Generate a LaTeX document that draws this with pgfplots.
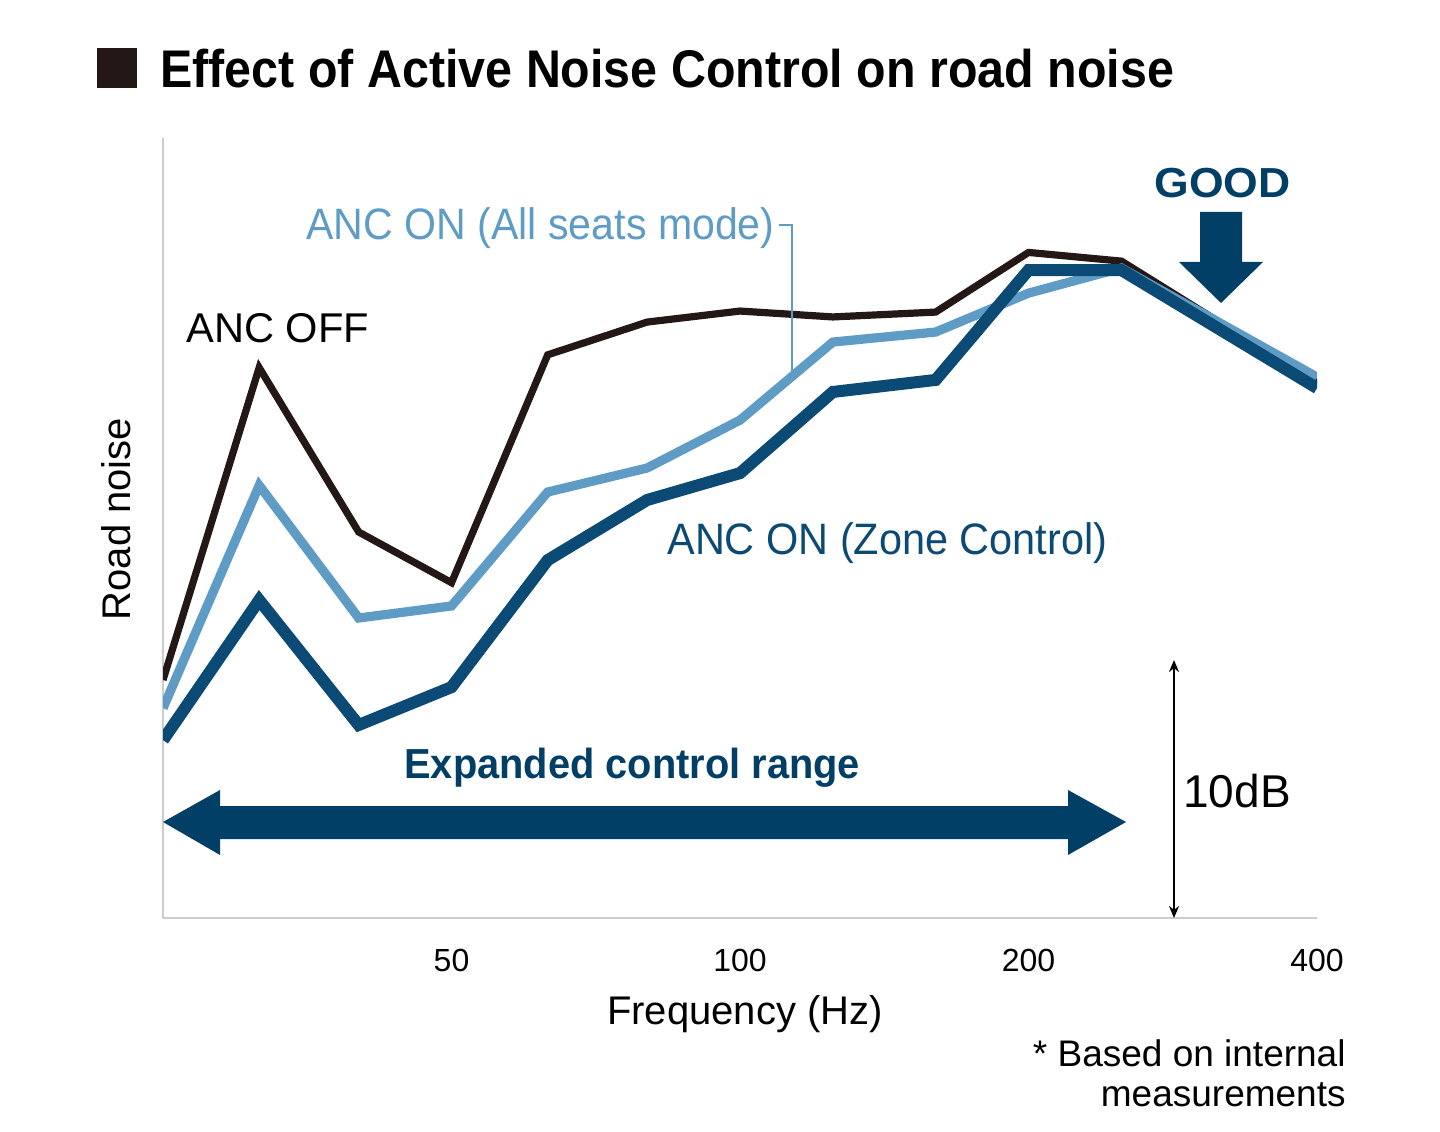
\documentclass[border=0pt]{standalone}
\usepackage{fontspec}
\setmainfont{Liberation Sans}
\usepackage{pgfplots}
\pgfplotsset{compat=1.18}
\usetikzlibrary{arrows.meta}

\definecolor{ancoff}{HTML}{231815}
\definecolor{allseats}{HTML}{5E9CC6}
\definecolor{zone}{HTML}{0B4A74}
\definecolor{arrowblue}{HTML}{023F66}
\definecolor{axisgray}{HTML}{CCCCCC}

\begin{document}
\begin{tikzpicture}
% page frame, in pixel-like units (1 unit = 0.5bp, y downwards)
\begin{scope}[x=0.5bp,y=-0.5bp]
  \path[use as bounding box] (0,0) rectangle (1440,1132);
\end{scope}

\begin{axis}[
  at={(81.5bp,-459bp)}, anchor=south west,
  width=577bp, height=390bp, scale only axis,
  xmode=log, log basis x=2,
  xmin=25, xmax=400, ymin=0, ymax=30.47,
  axis x line*=bottom, axis y line*=left,
  axis line style={axisgray, line width=1.2bp, -},
  xtick={50,100,200,400}, xticklabels={50,100,200,400},
  ytick=\empty, major tick length=0pt,
  /pgf/number format/assume math mode=true,
  xticklabel style={font=\fontsize{16bp}{18bp}\selectfont, text=black, yshift=-12bp},
  line join=miter,
]
% ANC OFF
\addplot[ancoff, line width=3.6bp] coordinates {
  (25,9.3) (31.5,21.5) (40,15.08) (50,13.1) (63,22.0) (80,23.28)
  (100,23.71) (125,23.48) (160,23.67) (200,26.0) (250,25.66) (400,20.9)
};
% ANC ON (All seats mode)
\addplot[allseats, line width=4.6bp] coordinates {
  (25,8.2) (31.5,16.9) (40,11.72) (50,12.19) (63,16.64) (80,17.58)
  (100,19.45) (125,22.5) (160,22.89) (200,24.41) (250,25.39) (400,21.13)
};
% ANC ON (Zone Control)
\addplot[zone, line width=6bp] coordinates {
  (25,6.95) (31.5,12.42) (40,7.54) (50,9.02) (63,13.98) (80,16.33)
  (100,17.38) (125,20.55) (160,21.02) (200,25.31) (250,25.31) (400,20.7)
};
\end{axis}

\begin{scope}[x=0.5bp,y=-0.5bp]
  % title
  \fill[ancoff] (97,48) rectangle (137,88);
  \node[anchor=base west, inner sep=0, xscale=0.913, font=\bfseries\fontsize{26.5bp}{30bp}\selectfont]
    at (160,88) {Effect of Active Noise Control on road noise};

  % axis titles
  \node[rotate=90, anchor=base, inner sep=0, font=\fontsize{20bp}{24bp}\selectfont]
    at (130,519) {Road noise};
  \node[anchor=base, inner sep=0, font=\fontsize{20bp}{24bp}\selectfont]
    at (745,1024) {Frequency (Hz)};

  % series labels
  \node[anchor=base west, inner sep=0, font=\fontsize{20.8bp}{24bp}\selectfont]
    at (186,343) {ANC OFF};
  \node[anchor=base west, inner sep=0, xscale=0.934, text=allseats, font=\fontsize{22bp}{26bp}\selectfont]
    at (306,240) {ANC ON (All seats mode)};
  \draw[allseats, line width=0.8bp] (779,225) -- (792,225) -- (792,372);
  \node[anchor=base west, inner sep=0, xscale=0.942, text=zone, font=\fontsize{22bp}{26bp}\selectfont]
    at (667,555) {ANC ON (Zone Control)};

  % GOOD marker
  \node[anchor=base west, inner sep=0, xscale=1.06, text=arrowblue, font=\bfseries\fontsize{21bp}{24bp}\selectfont]
    at (1154,198) {GOOD};
  \fill[arrowblue] (1200,212) -- (1242,212) -- (1242,262) -- (1263,262)
    -- (1221,303) -- (1179,262) -- (1200,262) -- cycle;

  % control range arrow
  \node[anchor=base west, inner sep=0, xscale=0.948, text=arrowblue, font=\bfseries\fontsize{21bp}{24bp}\selectfont]
    at (404,778) {Expanded control range};
  \fill[arrowblue] (163,822) -- (220,790) -- (220,806) -- (1068,806) -- (1068,790)
    -- (1126,822) -- (1068,855) -- (1068,839) -- (220,839) -- (220,855) -- cycle;

  % 10 dB scale
  \draw[black, line width=1.1bp, {Stealth[length=6bp,width=5bp]}-{Stealth[length=6bp,width=5bp]}]
    (1174,660) -- (1174,918);
  \node[anchor=base west, inner sep=0, font=\fontsize{23bp}{26bp}\selectfont]
    at (1183,807) {10dB};

  % footnote
  \node[anchor=base east, inner sep=0, font=\fontsize{18.5bp}{22bp}\selectfont]
    at (1346,1066) {* Based on internal};
  \node[anchor=base east, inner sep=0, font=\fontsize{18.5bp}{22bp}\selectfont]
    at (1346,1106) {measurements};
\end{scope}
\end{tikzpicture}
\end{document}
